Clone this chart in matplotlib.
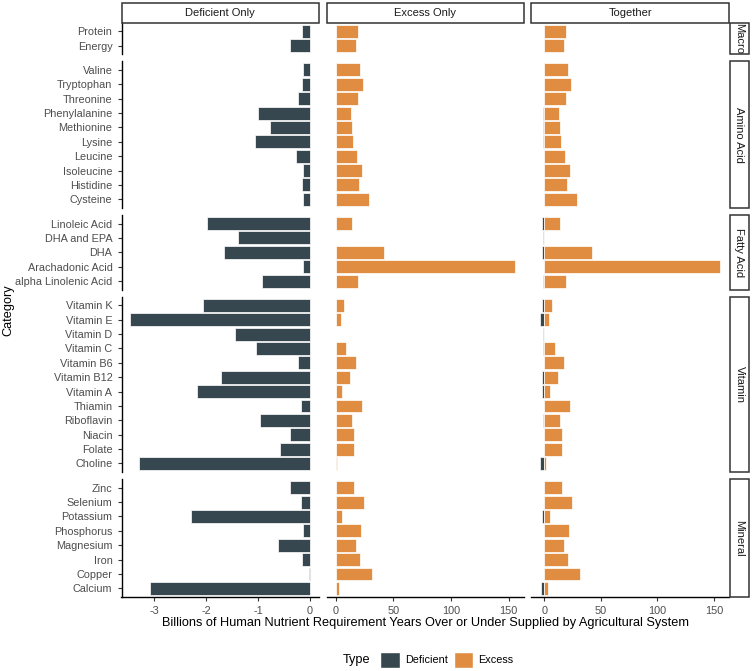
import numpy as np
import matplotlib
matplotlib.use("Agg")
import matplotlib.pyplot as plt
from matplotlib.patches import Rectangle, Patch

plt.rcParams['font.family'] = ['Liberation Sans', 'DejaVu Sans']
plt.rcParams['axes.unicode_minus'] = False

# groups (facet rows), categories top -> bottom
groups = ["Macro", "Amino Acid", "Fatty Acid", "Vitamin", "Mineral"]

macro_cats = ["Protein", "Energy"]
macro_def = [-0.15, -0.39]
macro_exc = [19.0, 17.6]

amino_cats = ["Valine", "Tryptophan", "Threonine", "Phenylalanine", "Methionine",
              "Lysine", "Leucine", "Isoleucine", "Histidine", "Cysteine"]
amino_def = [-0.13, -0.15, -0.23, -1.01, -0.78, -1.06, -0.27, -0.13, -0.15, -0.13]
amino_exc = [21.4, 23.7, 19.0, 13.0, 14.0, 15.0, 18.2, 22.8, 20.5, 28.9]

fatty_cats = ["Linoleic Acid", "DHA and EPA", "DHA", "Arachadonic Acid", "alpha Linolenic Acid"]
fatty_def = [-1.99, -1.38, -1.65, -0.13, -0.92]
fatty_exc = [14.0, 0.0, 42.1, 155.5, 19.0]

vit_cats = ["Vitamin K", "Vitamin E", "Vitamin D", "Vitamin C", "Vitamin B6", "Vitamin B12",
            "Vitamin A", "Thiamin", "Riboflavin", "Niacin", "Folate", "Choline"]
vit_def = [-2.06, -3.46, -1.44, -1.05, -0.23, -1.72, -2.17, -0.17, -0.96, -0.38, -0.57, -3.30]
vit_exc = [6.9, 4.6, 0.0, 9.2, 17.6, 12.1, 5.5, 22.8, 14.0, 15.9, 15.9, 1.5]

min_cats = ["Zinc", "Selenium", "Potassium", "Phosphorus", "Magnesium", "Iron", "Copper", "Calcium"]
min_def = [-0.38, -0.17, -2.30, -0.13, -0.61, -0.15, -0.02, -3.08]
min_exc = [15.9, 24.9, 5.5, 22.2, 17.6, 21.4, 31.4, 3.1]

cats = [macro_cats, amino_cats, fatty_cats, vit_cats, min_cats]
defs = [macro_def, amino_def, fatty_def, vit_def, min_def]
excs = [macro_exc, amino_exc, fatty_exc, vit_exc, min_exc]

columns = ["Deficient Only", "Excess Only", "Together"]
col_def = "#36474F"
col_exc = "#E08D42"

W, H = 752, 671
fig = plt.figure(figsize=(W / 100, H / 100), dpi=100)


def fx(px):
    return px / W


def fy(py):
    return 1 - py / H


col_x = [(121.5, 319), (326.7, 524), (531.3, 729)]
top, bottom, gap = 22.7, 597, 7
units = [len(c) + 0.2 for c in cats]
per_unit = (bottom - top - gap * (len(groups) - 1)) / sum(units)

all_def = np.concatenate([np.array(d) for d in defs])
all_exc = np.concatenate([np.array(e) for e in excs])


def expand(lo, hi):
    d = (hi - lo) * 0.05
    return lo - d, hi + d


xlims = [expand(all_def.min(), 0), expand(0, all_exc.max()), expand(all_def.min(), all_exc.max())]

y0 = top
for gi, g in enumerate(groups):
    h = units[gi] * per_unit
    n = len(cats[gi])
    ypos = np.arange(n)[::-1]
    for ci in range(3):
        x0, x1 = col_x[ci]
        ax = fig.add_axes([fx(x0), fy(y0 + h), fx(x1 - x0), h / H])
        if ci in (0, 2):
            ax.barh(ypos, defs[gi], height=0.9, color=col_def, edgecolor="white", linewidth=0.5)
        if ci in (1, 2):
            ax.barh(ypos, excs[gi], height=0.9, color=col_exc, edgecolor="white", linewidth=0.5)
        ax.set_ylim(-0.6, n - 1 + 0.6)
        ax.set_xlim(*xlims[ci])
        for s in ax.spines.values():
            s.set_visible(False)
        ax.tick_params(colors="#333333", labelcolor="#4D4D4D", labelsize=7.8, length=3, width=0.8)
        if ci == 0:
            ax.spines['left'].set_visible(True)
            ax.spines['left'].set_linewidth(1)
            ax.set_yticks(ypos)
            ax.set_yticklabels(cats[gi])
        else:
            ax.set_yticks([])
        if gi == len(groups) - 1:
            ax.spines['bottom'].set_visible(True)
            ax.spines['bottom'].set_linewidth(1)
            if ci == 0:
                ax.set_xticks([-3, -2, -1, 0])
            else:
                ax.set_xticks([0, 50, 100, 150])
        else:
            ax.set_xticks([])
        ax.patch.set_alpha(0)
    # right strip
    fig.patches.append(Rectangle((fx(729.7), fy(y0 + h)), fx(19.5), h / H, transform=fig.transFigure,
                                 facecolor="white", edgecolor="#333333", linewidth=1.1))
    fig.text(fx(739.5), fy(y0 + h / 2), g, rotation=-90, ha="center", va="center",
             fontsize=8, color="#1A1A1A")
    y0 += h + gap

# top strips
for ci, c in enumerate(columns):
    x0, x1 = col_x[ci]
    fig.patches.append(Rectangle((fx(x0), fy(22.7)), fx(x1 - x0), 20 / H, transform=fig.transFigure,
                                 facecolor="white", edgecolor="#333333", linewidth=1.1))
    fig.text(fx((x0 + x1) / 2), fy(12.7), c, ha="center", va="center", fontsize=8, color="#1A1A1A")

fig.text(fx(425), fy(623), "Billions of Human Nutrient Requirement Years Over or Under Supplied by Agricultural System",
         ha="center", va="center", fontsize=9.2)
fig.text(fx(8), fy(310), "Category", rotation=90, ha="center", va="center", fontsize=9.2)

# legend
fig.text(fx(343), fy(660), "Type", ha="left", va="center", fontsize=9.2)
handles = [Patch(facecolor=col_def, edgecolor="white", label="Deficient"),
           Patch(facecolor=col_exc, edgecolor="white", label="Excess")]
fig.legend(handles=handles, ncol=2, frameon=False, loc="center left",
           bbox_to_anchor=(fx(375), fy(660)), fontsize=7.8, handlelength=1.8, handleheight=2.0,
           columnspacing=0.5, handletextpad=0.5, borderpad=0)

fig.savefig("out.png", dpi=100)
